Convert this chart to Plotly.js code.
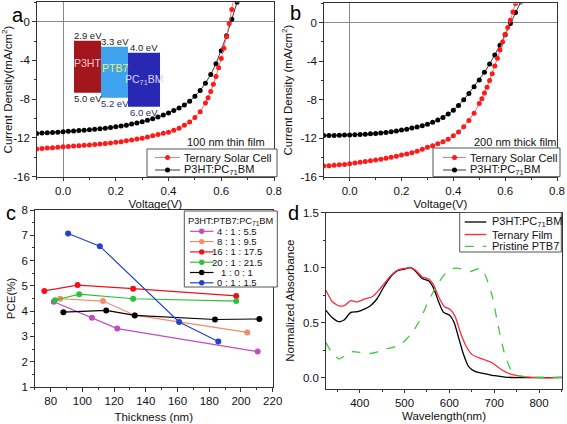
<!DOCTYPE html>
<html><head><meta charset="utf-8">
<script src="https://cdn.plot.ly/plotly-3.0.1.min.js"></script>
<style>html,body{margin:0;padding:0;background:#fff}#chart{width:567px;height:424px}</style>
</head><body><div id="chart"></div>
<script>
// ---------------- DATA ----------------
// (a) 100 nm thin film J-V
const aVoltTern = [-0.10,-0.08,-0.06,-0.04,-0.02,0.00,0.02,0.04,0.06,0.08,0.10,0.12,0.14,0.16,0.18,0.20,0.22,0.24,0.26,0.28,0.30,0.32,0.34,0.36,0.38,0.40,0.42,0.44,0.46,0.48,0.50,0.52,0.54,0.55,0.56,0.57,0.58,0.59,0.60,0.61,0.62,0.63,0.64,0.65];
const aJTern    = [-13.15,-13.1,-13.05,-13.0,-12.96,-12.92,-12.88,-12.84,-12.8,-12.76,-12.72,-12.67,-12.62,-12.57,-12.51,-12.45,-12.38,-12.3,-12.22,-12.12,-12.02,-11.9,-11.78,-11.65,-11.52,-11.4,-11.2,-11.0,-10.7,-10.35,-9.9,-9.3,-8.4,-7.85,-7.2,-6.45,-5.65,-4.75,-3.8,-2.75,-1.55,-0.2,1.25,2.8];
const aVoltRef  = [-0.10,-0.08,-0.06,-0.04,-0.02,0.00,0.02,0.04,0.06,0.08,0.10,0.12,0.14,0.16,0.18,0.20,0.22,0.24,0.26,0.28,0.30,0.32,0.34,0.36,0.38,0.40,0.42,0.44,0.46,0.48,0.50,0.52,0.54,0.56,0.58,0.60,0.62,0.64,0.66];
const aJRef     = [-11.53,-11.5,-11.47,-11.44,-11.4,-11.36,-11.32,-11.28,-11.24,-11.2,-11.16,-11.11,-11.06,-11.0,-10.93,-10.85,-10.77,-10.68,-10.57,-10.45,-10.33,-10.18,-10.02,-9.84,-9.64,-9.42,-9.18,-8.9,-8.6,-8.2,-7.7,-7.1,-6.35,-5.45,-4.35,-3.0,-1.45,0.25,2.0];
// (b) 200 nm thick film J-V
const bVoltTern = [-0.10,-0.08,-0.06,-0.04,-0.02,0.00,0.02,0.04,0.06,0.08,0.10,0.12,0.14,0.16,0.18,0.20,0.22,0.24,0.26,0.28,0.30,0.32,0.34,0.36,0.38,0.40,0.42,0.44,0.46,0.48,0.50,0.51,0.52,0.53,0.54,0.55,0.56,0.57,0.58,0.59,0.60,0.61,0.62,0.63,0.64];
const bJTern    = [-14.9,-14.86,-14.82,-14.77,-14.72,-14.65,-14.58,-14.5,-14.43,-14.35,-14.27,-14.18,-14.08,-13.98,-13.87,-13.75,-13.63,-13.5,-13.35,-13.15,-12.95,-12.78,-12.58,-12.36,-12.1,-11.75,-11.35,-10.8,-10.15,-9.4,-8.4,-7.9,-7.3,-6.7,-6.0,-5.3,-4.5,-3.7,-2.85,-2.0,-1.2,-0.5,0.25,1.1,2.0];
const bVoltRef  = [-0.10,-0.08,-0.06,-0.04,-0.02,0.00,0.02,0.04,0.06,0.08,0.10,0.12,0.14,0.16,0.18,0.20,0.22,0.24,0.26,0.28,0.30,0.32,0.34,0.36,0.38,0.40,0.42,0.44,0.46,0.48,0.50,0.52,0.54,0.56,0.58,0.60,0.62,0.64,0.66];
const bJRef     = [-11.73,-11.72,-11.71,-11.7,-11.68,-11.66,-11.64,-11.61,-11.58,-11.55,-11.51,-11.46,-11.4,-11.33,-11.25,-11.16,-11.06,-10.95,-10.83,-10.7,-10.55,-10.35,-10.12,-9.85,-9.5,-9.1,-8.6,-8.0,-7.35,-6.65,-5.95,-5.15,-4.3,-3.35,-2.35,-1.25,-0.1,1.05,2.15];
const jvNames   = ['Ternary Solar Cell','P3HT:PC<sub>71</sub>BM'];
const aNote = '100 nm thin film';
const bNote = '200 nm thick film';
// inset energy levels
const materials = ['P3HT','PTB7','PC<sub>71</sub>BM'];
const lumo = [2.9, 3.3, 4.0];
const homo = [5.0, 5.2, 6.0];
// (c) PCE vs thickness
const cTitle = 'P3HT:PTB7:PC<sub>71</sub>BM';
const cRatios = ['4 : 1 : 5.5','8 : 1 : 9.5','16 : 1 : 17.5','20 : 1 : 21.5','1 : 0 : 1','0 : 1 : 1.5'];
const cThick4  = [82, 106, 122, 210.5];   const cPce4  = [4.37, 3.74, 3.31, 2.40];
const cThick8  = [86, 113, 133, 204];     const cPce8  = [4.49, 4.40, 3.84, 3.16];
const cThick16 = [76, 97, 132, 197];      const cPce16 = [4.80, 5.03, 4.89, 4.60];
const cThick20 = [82.7, 98, 132, 197];    const cPce20 = [4.43, 4.67, 4.49, 4.40];
const cThick1  = [88, 115, 133, 183.6, 211.6]; const cPce1 = [3.96, 4.03, 3.83, 3.67, 3.69];
const cThick0  = [91, 111, 161, 185.7];   const cPce0  = [7.07, 6.57, 3.57, 2.80];
// (d) absorbance
const dNames = ['P3HT:PC<sub>71</sub>BM','Ternary Film','Pristine PTB7'];
const dWaveRef = [324,339,353,365,380,395,410,424,439,454,469,484,500,513,524,539,554,565,576,587,600,610,621,632,643,658,676,701,724,769,852];
const dAbsRef  = [0.615,0.545,0.509,0.524,0.594,0.600,0.624,0.655,0.720,0.827,0.918,0.973,0.988,1.000,0.970,0.903,0.879,0.812,0.690,0.594,0.570,0.509,0.358,0.206,0.100,0.055,0.039,0.018,0.006,0.000,0.003];
const dWaveTern = [324,339,354,365,380,395,410,428,443,458,473,487,502,513,524,539,554,565,576,589,602,613,624,636,650,665,680,695,710,724,739,761,799,852];
const dAbsTern  = [0.797,0.690,0.652,0.655,0.700,0.690,0.715,0.736,0.797,0.873,0.942,0.982,0.994,1.000,0.979,0.918,0.897,0.842,0.736,0.645,0.621,0.555,0.418,0.297,0.212,0.182,0.161,0.136,0.091,0.055,0.030,0.012,0.000,0.000];
const dWavePtb7 = [324,339,354,369,384,399,417,436,454,473,491,506,521,536,550,565,580,595,610,621,636,647,658,669,680,695,710,724,739,754,784,852];
const dAbsPtb7  = [0.321,0.221,0.170,0.206,0.236,0.230,0.218,0.230,0.261,0.273,0.303,0.358,0.433,0.539,0.667,0.788,0.888,0.964,0.994,0.994,0.973,0.964,0.982,0.994,0.933,0.752,0.448,0.206,0.061,0.018,0.006,0.003];
// ticks
const jvTicksX = [0.0,0.2,0.4,0.6,0.8];
const jvTicksY = [-16,-12,-8,-4,0];
const cTicksX = [80,100,120,140,160,180,200,220];
const cTicksY = [1,2,3,4,5,6,7,8];
const dTicksX = [400,500,600,700,800];
const dTicksY = [0.0,0.5,1.0,1.5];
const panelLetters = ['a','b','c','d'];

// ---------------- STYLE / LAYOUT ----------------
const W = 567, H = 424;
const px = x => x / W;
const py = y => 1 - y / H;
const FONT = 'Liberation Sans, Arial, sans-serif';
const tickFont = {family: FONT, size: 11.5, color: '#111'};
const titleFont = {family: FONT, size: 11.5, color: '#111'};

function axis(extra) {
  return Object.assign({
    showline: true, linecolor: '#333', linewidth: 1, mirror: true,
    ticks: 'outside', ticklen: 3.5, tickwidth: 1, tickcolor: '#333',
    showgrid: false, zeroline: false, tickfont: tickFont, automargin: false,
    fixedrange: true
  }, extra);
}
function arrTicks(vals, fmt) {
  return {tickmode: 'array', tickvals: vals, ticktext: vals.map(fmt)};
}
const f1 = v => v.toFixed(1);
const f0 = v => String(v);
const zl = {zeroline: true, zerolinecolor: '#8a8a8a', zerolinewidth: 1};
const minorStyle = {ticks: 'outside', ticklen: 2, tickcolor: '#333'};

const ternLine = '#ff7080', ternMark = '#ff1a1a';
const refLine = '#3a3a3a', refMark = '#000000';
const cColors = ['#c04cc0','#f58a6e','#f0101c','#2fc03a','#000000','#2243d0'];
const dColors = ['#000000','#ff2a3a','#3ccc3c'];
const dDash = ['solid','solid','dash'];

const traces = [];
function jv(x, y, name, lc, mc, xa, ya) {
  traces.push({x, y, name, type: 'scatter', mode: 'lines+markers', xaxis: xa, yaxis: ya,
    line: {color: lc, width: 1}, marker: {color: mc, size: 5}, showlegend: false});
}
jv(aVoltRef, aJRef, jvNames[1], refLine, refMark, 'x', 'y');
jv(aVoltTern, aJTern, jvNames[0], ternLine, ternMark, 'x', 'y');
jv(bVoltRef, bJRef, jvNames[1], refLine, refMark, 'x2', 'y2');
jv(bVoltTern, bJTern, jvNames[0], ternLine, ternMark, 'x2', 'y2');

const cX = [cThick4, cThick8, cThick16, cThick20, cThick1, cThick0];
const cY = [cPce4, cPce8, cPce16, cPce20, cPce1, cPce0];
cX.forEach((xs, i) => traces.push({x: xs, y: cY[i], name: cRatios[i], type: 'scatter', mode: 'lines+markers',
  xaxis: 'x3', yaxis: 'y3', line: {color: cColors[i], width: 1.2}, marker: {color: cColors[i], size: 6}, showlegend: false}));

const dX = [dWaveRef, dWaveTern, dWavePtb7];
const dY = [dAbsRef, dAbsTern, dAbsPtb7];
dX.forEach((xs, i) => traces.push({x: xs, y: dY[i], name: dNames[i], type: 'scatter', mode: 'lines',
  xaxis: 'x4', yaxis: 'y4', line: {color: dColors[i], width: 1.3, dash: dDash[i], shape: 'spline', smoothing: 0.6}, showlegend: false}));

const shapes = [];
const annotations = [];
function txt(text, x, y, size, color, xanchor, extra) {
  annotations.push(Object.assign({text, x: px(x), y: py(y), xref: 'paper', yref: 'paper', showarrow: false,
    xanchor: xanchor || 'center', yanchor: 'middle', font: {family: FONT, size, color: color || '#111'}}, extra || {}));
}
function rect(x0, y0, x1, y1, fill, lineColor, lw) {
  shapes.push({type: 'rect', xref: 'paper', yref: 'paper', x0: px(x0), x1: px(x1), y0: py(y1), y1: py(y0),
    fillcolor: fill, line: {color: lineColor || fill, width: lw === undefined ? 0 : lw}, layer: 'above'});
}
function seg(x0, x1, y, color, w, dash) {
  shapes.push({type: 'line', xref: 'paper', yref: 'paper', x0: px(x0), x1: px(x1), y0: py(y), y1: py(y),
    line: {color, width: w, dash: dash || 'solid'}, layer: 'above'});
}
function dot(cx, cy, r, color) {
  shapes.push({type: 'circle', xref: 'paper', yref: 'paper', x0: px(cx - r), x1: px(cx + r), y0: py(cy + r), y1: py(cy - r),
    fillcolor: color, line: {color, width: 0}, layer: 'above'});
}

// legends (a) and (b)
function jvLegend(bx0, by0, bx1, by1, lx0, lx1, tx, rows) {
  rect(bx0, by0, bx1, by1, '#ffffff', '#555', 1);
  const lc = [ternLine, refLine], mc = [ternMark, refMark];
  rows.forEach((ry, i) => {
    seg(lx0, lx1, ry, lc[i], 1);
    dot((lx0 + lx1) / 2, ry, 2.5, mc[i]);
    txt(jvNames[i], tx, ry, 11, '#111', 'left');
  });
}
jvLegend(147, 149, 277, 176.7, 155, 180, 182, [157.5, 170]);
jvLegend(433, 148, 560, 176.7, 443, 466, 468, [157.5, 170]);
txt(aNote, 226, 142, 11);
txt(bNote, 515, 142, 11);

// inset energy diagram in (a)
const boxes = [[74, 40.7, 101, 92.7], [101, 46.7, 128, 97.7], [128, 52.7, 160, 106.7]];
const boxFill = ['#a3161c', '#3ea2ee', '#2828b4'];
const boxText = ['#f6c6d6', '#eef25a', '#dcd6ff'];
boxes.forEach((b, i) => {
  rect(b[0], b[1], b[2], b[3], boxFill[i]);
  const cx = (b[0] + b[2]) / 2;
  txt(materials[i], cx, (b[1] + b[3]) / 2 + (i === 2 ? 0 : -4), 10.5, boxText[i]);
  txt(lumo[i].toFixed(1) + ' eV', cx, b[1] - 5.5, 9.5, '#1a1a1a');
  txt(homo[i].toFixed(1) + ' eV', cx, b[3] + 6, 9.5, i === 0 ? '#1a1a1a' : '#1f2d78');
});

// legend (c)
rect(184.3, 211, 277.3, 287, '#ffffff', '#555', 1);
txt(cTitle, 230.5, 221, 9.3, '#111');
const cRows = [231.3, 241.6, 251.9, 262.2, 272.5, 282.8];
cRows.forEach((ry, i) => {
  seg(190, 213.5, ry, cColors[i], 1.2);
  dot(201.7, ry, 2.7, cColors[i]);
  txt(cRatios[i], 237, ry, 9.5, '#111');
});

// legend (d)
rect(459.7, 212.5, 561.3, 252, '#ffffff', '#555', 1);
const dRows = [222, 234.5, 246.3];
dRows.forEach((ry, i) => {
  seg(464.7, 486.3, ry, dColors[i], 1.3, dDash[i]);
  txt(dNames[i], 489.5, ry, 11, '#111', 'left');
});

// panel letters
txt(panelLetters[0], 18, 15, 20, '#000');
txt(panelLetters[1], 295, 13, 20, '#000');
txt(panelLetters[2], 11, 213, 20, '#000');
txt(panelLetters[3], 293, 213, 20, '#000');

const layout = {
  width: W, height: H, margin: {l: 0, r: 0, t: 0, b: 0},
  paper_bgcolor: '#fff', plot_bgcolor: 'rgba(0,0,0,0)', showlegend: false,
  font: {family: FONT, color: '#111'},
  xaxis: axis(Object.assign({domain: [px(36.7), px(274)], range: [-0.1, 0.8], anchor: 'y',
    minor: Object.assign({tickmode: 'linear', tick0: 0, dtick: 0.1}, minorStyle),
    title: {text: 'Voltage(V)', font: titleFont, standoff: 3}}, arrTicks(jvTicksX, f1), zl)),
  yaxis: axis(Object.assign({domain: [py(176.7), py(2.3)], range: [-16, 2], anchor: 'x',
    minor: Object.assign({tickmode: 'linear', tick0: 0, dtick: 2}, minorStyle),
    title: {text: 'Current Density(mA/cm<sup>2</sup>)', font: titleFont, standoff: 5}}, arrTicks(jvTicksY, f0), zl)),
  xaxis2: axis(Object.assign({domain: [px(323.8), px(557)], range: [-0.1, 0.8], anchor: 'y2',
    minor: Object.assign({tickmode: 'linear', tick0: 0, dtick: 0.1}, minorStyle),
    title: {text: 'Voltage(V)', font: titleFont, standoff: 3}}, arrTicks(jvTicksX, f1), zl)),
  yaxis2: axis(Object.assign({domain: [py(176.7), py(3.4)], range: [-16, 2], anchor: 'x2',
    minor: Object.assign({tickmode: 'linear', tick0: 0, dtick: 2}, minorStyle),
    title: {text: 'Current Density (mA/cm<sup>2</sup>)', font: titleFont, standoff: 5}}, arrTicks(jvTicksY, f0), zl)),
  xaxis3: axis(Object.assign({domain: [px(34.8), px(272.7)], range: [70, 220], anchor: 'y3',
    minor: Object.assign({tickmode: 'linear', tick0: 70, dtick: 10}, minorStyle),
    title: {text: 'Thickness (nm)', font: titleFont, standoff: 6}}, arrTicks(cTicksX, f0))),
  yaxis3: axis(Object.assign({domain: [py(387), py(210)], range: [1, 8], anchor: 'x3',
    minor: Object.assign({tickmode: 'linear', tick0: 1, dtick: 0.5}, minorStyle),
    title: {text: 'PCE(%)', font: titleFont, standoff: 3}}, arrTicks(cTicksY, f0))),
  xaxis4: axis(Object.assign({domain: [px(325.7), px(562.3)], range: [324, 852], anchor: 'y4',
    minor: Object.assign({tickmode: 'linear', tick0: 350, dtick: 50}, minorStyle),
    title: {text: 'Wavelength(nm)', font: titleFont, standoff: 3}}, arrTicks(dTicksX, f0))),
  yaxis4: axis(Object.assign({domain: [py(388.7), py(212.7)], range: [-0.1, 1.5], anchor: 'x4',
    minor: Object.assign({tickmode: 'linear', tick0: 0, dtick: 0.25}, minorStyle),
    title: {text: 'Normalized Absorbance', font: titleFont, standoff: 5}}, arrTicks(dTicksY, f1))),
  shapes, annotations
};
Plotly.newPlot('chart', traces, layout, {staticPlot: true, displayModeBar: false});
</script></body></html>
